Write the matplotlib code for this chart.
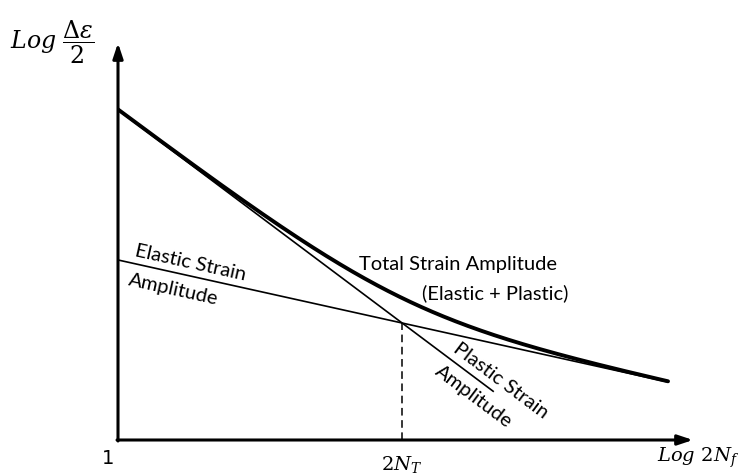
import numpy as np
import matplotlib.pyplot as plt

plt.rcParams['mathtext.fontset'] = 'dejavuserif'

# Strain-life lines in log-log units (decades)
x_end = 6.696            # log 2Nf where the curves stop
elastic_start = 2.169    # log(sigma_f'/E) at 2Nf = 1
elastic_slope = -0.2196  # b
plastic_start = 3.976    # log(eps_f') at 2Nf = 1
plastic_end_x = 4.567    # plastic line drawn only this far
plastic_slope = -0.742   # c

x_max = 7.0
y_max = 4.783

fig = plt.figure(figsize=(7.43, 4.75), dpi=100)
ax = fig.add_axes([118 / 743, 35 / 475, 575 / 743, 397 / 475])
ax.set_xlim(0, x_max)
ax.set_ylim(0, y_max)
ax.axis('off')

# axes with arrow heads
arrow = dict(arrowstyle='-|>,head_length=0.9,head_width=0.3', lw=2.2, color='black',
             shrinkA=0, shrinkB=0)
ax.annotate('', xy=(x_max, 0), xytext=(-0.012, 0), arrowprops=arrow, annotation_clip=False)
ax.annotate('', xy=(0, y_max), xytext=(0, -0.012), arrowprops=arrow, annotation_clip=False)

x = np.linspace(0, x_end, 400)
elastic = elastic_start + elastic_slope * x
plastic = plastic_start + plastic_slope * x
total = np.log10(10 ** elastic + 10 ** plastic)

ax.plot(x, elastic, color='black', lw=1.2, solid_capstyle='butt')
xp = np.linspace(0, plastic_end_x, 50)
ax.plot(xp, plastic_start + plastic_slope * xp, color='black', lw=1.2)
ax.plot(x, total, color='black', lw=2.8, solid_capstyle='round')

# transition life
x_t = (plastic_start - elastic_start) / (elastic_slope - plastic_slope)
y_t = elastic_start + elastic_slope * x_t
ax.plot([x_t, x_t], [0, y_t], color='black', lw=1.1, ls=(0, (5, 3)))

# labels
font = dict(family='Lato', fontsize=14.5, color='black', ha='center', va='center')
ang_e = -np.degrees(np.arctan(0.222))
ang_p = -np.degrees(np.arctan(0.75))
ax.text(0.88, 2.13, 'Elastic Strain', rotation=ang_e, rotation_mode='anchor', **font)
ax.text(0.67, 1.81, 'Amplitude', rotation=ang_e, rotation_mode='anchor', **font)
ax.text(4.14, 2.11, 'Total Strain Amplitude', **font)
ax.text(4.59, 1.77, '(Elastic + Plastic)', **font)
ax.text(4.66, 0.71, 'Plastic Strain', rotation=ang_p, rotation_mode='anchor', **font)
ax.text(4.33, 0.52, 'Amplitude', rotation=ang_p, rotation_mode='anchor', **font)

ax.text(-0.12, -0.22, '1', fontsize=14, ha='center', va='center')
ax.text(x_t, -0.29, r'$2N_T$', fontsize=14, ha='center', va='center')
ax.text(7.06, -0.22, r'$Log\ 2N_f$', fontsize=14, ha='center', va='center')
ax.text(-0.8, 4.79, r'$Log\ \dfrac{\Delta\varepsilon}{2}$', fontsize=17, ha='center', va='center')

fig.savefig('out.png', dpi=100)
